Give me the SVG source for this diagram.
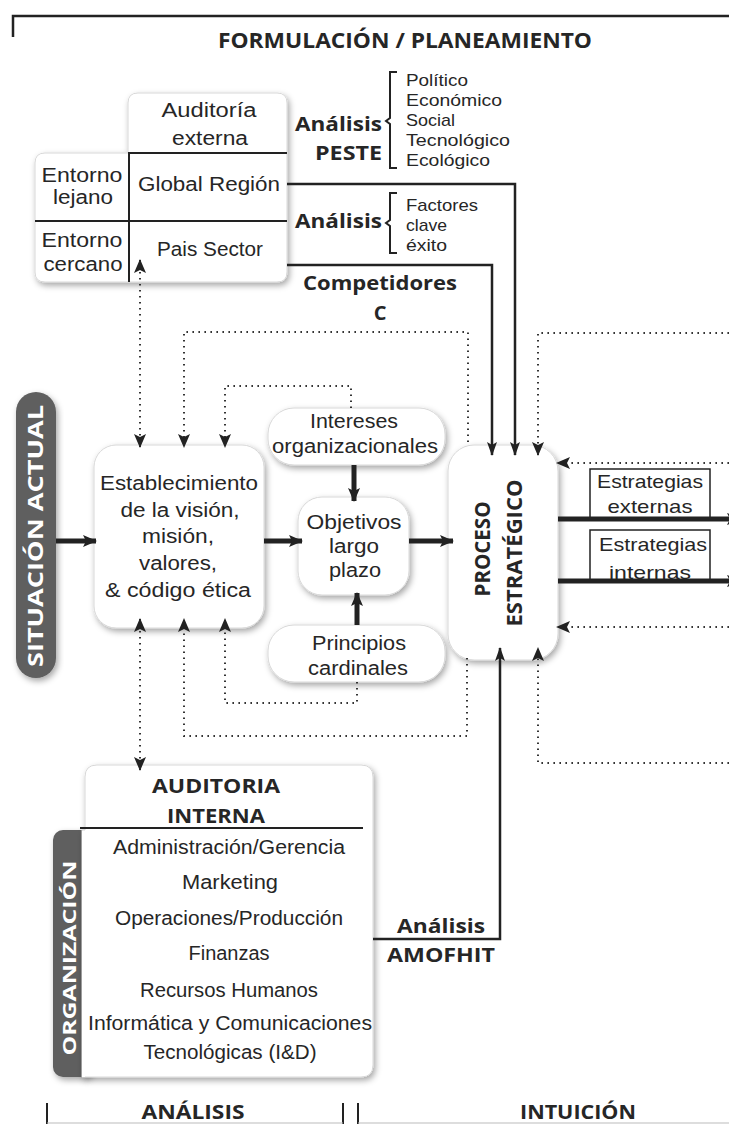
<svg xmlns="http://www.w3.org/2000/svg" width="729" height="1124" viewBox="0 0 729 1124">
<defs>
<style>
text{font-family:"Liberation Sans","Open Sans",sans-serif;fill:#262626}
.t{font-size:20px;text-anchor:middle}
.s{font-size:17px}
.b{font-family:"Open Sans","Noto Sans",sans-serif;font-weight:bold}
.w{font-family:"Open Sans","Noto Sans",sans-serif;fill:#fff;font-weight:bold;text-anchor:middle}
.box{fill:#fff;stroke:#d8d8d8;stroke-width:1;filter:url(#sh)}
.ln{fill:none;stroke:#222;stroke-width:2}
.sol{fill:none;stroke:#222;stroke-width:2.5}
.thk{fill:none;stroke:#222;stroke-width:5}
.dot{fill:none;stroke:#333;stroke-width:2;stroke-dasharray:1.6 4.4}
.brk{fill:none;stroke:#222;stroke-width:2}
</style>
<filter id="sh" x="-15%" y="-15%" width="135%" height="135%">
<feDropShadow dx="2" dy="3" stdDeviation="3" flood-color="#000" flood-opacity="0.35"/>
</filter>
<marker id="ah" viewBox="0 0 14 12" refX="13" refY="6" markerWidth="14" markerHeight="12" orient="auto-start-reverse" markerUnits="userSpaceOnUse">
<path d="M0,0 L14,6 L0,12 L3,6 z" fill="#222"/>
</marker>
<marker id="ahs" viewBox="0 0 14 10" refX="13" refY="5" markerWidth="14" markerHeight="10" orient="auto-start-reverse" markerUnits="userSpaceOnUse">
<path d="M0,0 L14,5 L0,10 L3,5 z" fill="#222"/>
</marker>
</defs>
<rect width="729" height="1124" fill="#fff"/>

<g id="frame">
<path d="M13,37 V16 H729" fill="none" stroke="#222" stroke-width="2.5"/>
<text x="405" y="48" class="b" font-size="21" text-anchor="middle" textLength="374" lengthAdjust="spacingAndGlyphs">FORMULACIÓN / PLANEAMIENTO</text>
<path d="M47,1103 V1124 M343,1103 V1124 M358,1103 V1124" fill="none" stroke="#222" stroke-width="2"/>
<path d="M47,1123 H343 M358,1123 H729" fill="none" stroke="#bbb" stroke-width="1"/>
<text x="193" y="1119" class="b" font-size="20" text-anchor="middle" textLength="103" lengthAdjust="spacingAndGlyphs">ANÁLISIS</text>
<text x="578" y="1119" class="b" font-size="20" text-anchor="middle" textLength="116" lengthAdjust="spacingAndGlyphs">INTUICIÓN</text>
</g>

<g id="auditoria-externa">
<path class="box" d="M138,93 H277 Q287,93 287,103 V272 Q287,282 277,282 H45 Q35,282 35,272 V163 Q35,153 45,153 H128 V103 Q128,93 138,93 Z"/>
<path class="ln" d="M128,153 H287 M129,153 V282 M35,221 H287"/>
<text class="t" x="209" y="117" textLength="95" lengthAdjust="spacingAndGlyphs">Auditoría</text>
<text class="t" x="210" y="145" textLength="76" lengthAdjust="spacingAndGlyphs">externa</text>
<text class="t" font-size="19" x="82" y="182" textLength="81" lengthAdjust="spacingAndGlyphs">Entorno</text>
<text class="t" font-size="19" x="83" y="204" textLength="60" lengthAdjust="spacingAndGlyphs">lejano</text>
<text class="t" x="209" y="191" textLength="142" lengthAdjust="spacingAndGlyphs">Global Región</text>
<text class="t" font-size="19" x="82" y="247" textLength="81" lengthAdjust="spacingAndGlyphs">Entorno</text>
<text class="t" font-size="19" x="83" y="271" textLength="79" lengthAdjust="spacingAndGlyphs">cercano</text>
<text class="t" x="210" y="256" textLength="106" lengthAdjust="spacingAndGlyphs">Pais Sector</text>
</g>

<g id="analisis-peste">
<text x="382" y="131" class="b" font-size="20" text-anchor="end" textLength="87" lengthAdjust="spacingAndGlyphs">Análisis</text>
<text x="382" y="160" class="b" font-size="20" text-anchor="end" textLength="67" lengthAdjust="spacingAndGlyphs">PESTE</text>
<path class="brk" d="M397,72 H390 V118 L386,121 L390,124 V168 H397"/>
<text class="s" x="406" y="86" textLength="62" lengthAdjust="spacingAndGlyphs">Político</text>
<text class="s" x="406" y="106" textLength="96" lengthAdjust="spacingAndGlyphs">Económico</text>
<text class="s" x="406" y="126" textLength="49" lengthAdjust="spacingAndGlyphs">Social</text>
<text class="s" x="406" y="146" textLength="104" lengthAdjust="spacingAndGlyphs">Tecnológico</text>
<text class="s" x="406" y="166" textLength="84" lengthAdjust="spacingAndGlyphs">Ecológico</text>
</g>

<g id="analisis-fce">
<text x="382" y="228" class="b" font-size="20" text-anchor="end" textLength="87" lengthAdjust="spacingAndGlyphs">Análisis</text>
<path class="brk" d="M397,193 H390 V220 L386,223 L390,226 V253 H397"/>
<text class="s" x="406" y="211" textLength="72" lengthAdjust="spacingAndGlyphs">Factores</text>
<text class="s" x="406" y="231" textLength="41" lengthAdjust="spacingAndGlyphs">clave</text>
<text class="s" x="406" y="251" textLength="41" lengthAdjust="spacingAndGlyphs">éxito</text>
</g>

<g id="competidores">
<text x="380" y="290" class="b" font-size="20" text-anchor="middle" textLength="154" lengthAdjust="spacingAndGlyphs">Competidores</text>
<text x="380" y="320" class="b" font-size="20" text-anchor="middle">C</text>
</g>

<g id="situacion-actual">
<rect x="16" y="392" width="40" height="286" rx="20" fill="#5f5f5f" filter="url(#sh)"/>
<text class="w" font-size="21" transform="translate(43,536) rotate(-90)" textLength="262" lengthAdjust="spacingAndGlyphs">SITUACIÓN ACTUAL</text>
</g>

<g id="establecimiento">
<rect class="box" x="94" y="445" width="170" height="183" rx="22"/>
<text class="t" x="179" y="490" textLength="158" lengthAdjust="spacingAndGlyphs">Establecimiento</text>
<text class="t" x="180" y="517" textLength="119" lengthAdjust="spacingAndGlyphs">de la visión,</text>
<text class="t" x="178" y="543" textLength="72" lengthAdjust="spacingAndGlyphs">misión,</text>
<text class="t" x="178" y="570" textLength="78" lengthAdjust="spacingAndGlyphs">valores,</text>
<text class="t" x="178" y="597" textLength="146" lengthAdjust="spacingAndGlyphs">&amp; código ética</text>
</g>

<g id="intereses">
<rect class="box" x="268" y="408" width="177" height="57" rx="26"/>
<text class="t" x="354" y="428" textLength="88" lengthAdjust="spacingAndGlyphs">Intereses</text>
<text class="t" x="355" y="453" textLength="166" lengthAdjust="spacingAndGlyphs">organizacionales</text>
</g>

<g id="objetivos">
<rect class="box" x="298" y="497" width="111" height="98" rx="24"/>
<text class="t" x="354" y="529" textLength="95" lengthAdjust="spacingAndGlyphs">Objetivos</text>
<text class="t" x="354" y="553" textLength="50" lengthAdjust="spacingAndGlyphs">largo</text>
<text class="t" x="355" y="577" textLength="52" lengthAdjust="spacingAndGlyphs">plazo</text>
</g>

<g id="principios">
<rect class="box" x="268" y="625" width="177" height="57" rx="26"/>
<text class="t" x="359" y="650" textLength="94" lengthAdjust="spacingAndGlyphs">Principios</text>
<text class="t" x="358" y="675" textLength="100" lengthAdjust="spacingAndGlyphs">cardinales</text>
</g>

<g id="proceso">
<rect class="box" x="448" y="445" width="110" height="215" rx="26"/>
<text class="b" font-size="22" text-anchor="middle" transform="translate(490,549) rotate(-90)" textLength="95" lengthAdjust="spacingAndGlyphs">PROCESO</text>
<text class="b" font-size="22" text-anchor="middle" transform="translate(522,553) rotate(-90)" textLength="147" lengthAdjust="spacingAndGlyphs">ESTRATÉGICO</text>
</g>

<g id="estrategias-externas">
<path d="M590,519 V469 H710 V519" fill="#fff" stroke="#222" stroke-width="1.5"/>
<text x="650" y="488" text-anchor="middle" font-size="19" textLength="106" lengthAdjust="spacingAndGlyphs">Estrategias</text>
<text x="650" y="513" text-anchor="middle" font-size="19" textLength="85" lengthAdjust="spacingAndGlyphs">externas</text>
</g>

<g id="estrategias-internas">
<path d="M590,581 V530 H710 V581" fill="#fff" stroke="#222" stroke-width="1.5"/>
<text x="653" y="551" text-anchor="middle" font-size="19" textLength="108" lengthAdjust="spacingAndGlyphs">Estrategias</text>
<text x="650" y="579" text-anchor="middle" font-size="19" textLength="82" lengthAdjust="spacingAndGlyphs">internas</text>
</g>

<g id="auditoria-interna">
<rect x="53" y="830" width="40" height="247" rx="10" fill="#5f5f5f" filter="url(#sh)"/>
<path class="box" d="M97,765 H361 Q373,765 373,777 V1065 Q373,1077 361,1077 H82 V830 H85 V777 Q85,765 97,765 Z"/>
<rect x="82" y="831" width="3" height="246" fill="#fff"/>
<path d="M80,828 H363" fill="none" stroke="#222" stroke-width="2"/>
<text class="w" font-size="18" transform="translate(76,958) rotate(-90)" textLength="195" lengthAdjust="spacingAndGlyphs">ORGANIZACIÓN</text>
<text x="216" y="793" class="b" font-size="20" text-anchor="middle" textLength="128" lengthAdjust="spacingAndGlyphs">AUDITORIA</text>
<text x="216" y="823" class="b" font-size="20" text-anchor="middle" textLength="98" lengthAdjust="spacingAndGlyphs">INTERNA</text>
<text class="t" font-size="19" x="229" y="854" textLength="232" lengthAdjust="spacingAndGlyphs">Administración/Gerencia</text>
<text class="t" font-size="19" x="230" y="889" textLength="96" lengthAdjust="spacingAndGlyphs">Marketing</text>
<text class="t" font-size="19" x="229" y="925" textLength="228" lengthAdjust="spacingAndGlyphs">Operaciones/Producción</text>
<text class="t" font-size="19" x="229" y="960" textLength="81" lengthAdjust="spacingAndGlyphs">Finanzas</text>
<text class="t" font-size="19" x="229" y="997" textLength="178" lengthAdjust="spacingAndGlyphs">Recursos Humanos</text>
<text class="t" font-size="19" x="230" y="1030" textLength="284" lengthAdjust="spacingAndGlyphs">Informática y Comunicaciones</text>
<text class="t" font-size="19" x="230" y="1059" textLength="173" lengthAdjust="spacingAndGlyphs">Tecnológicas (I&amp;D)</text>
</g>

<g id="analisis-amofhit">
<text x="441" y="933" class="b" font-size="20" text-anchor="middle" textLength="88" lengthAdjust="spacingAndGlyphs">Análisis</text>
<text x="441" y="962" class="b" font-size="20" text-anchor="middle" textLength="108" lengthAdjust="spacingAndGlyphs">AMOFHIT</text>
</g>

<g id="connectors">
<path class="thk" d="M56,541 H96" marker-end="url(#ah)"/>
<path class="thk" d="M264,541 H302" marker-end="url(#ah)"/>
<path class="thk" d="M409,541 H453" marker-end="url(#ah)"/>
<path class="thk" stroke-width="4" d="M354,465 V501" marker-end="url(#ah)"/>
<path class="thk" stroke-width="4" d="M357,625 V593" marker-end="url(#ah)"/>
<path class="sol" d="M287,184 H515 V455" marker-end="url(#ahs)"/>
<path class="sol" d="M287,265 H492 V455" marker-end="url(#ahs)"/>
<path class="sol" d="M373,939 H500 V648" marker-end="url(#ahs)"/>
<path class="thk" stroke-width="3.5" d="M558,519 H740" marker-end="url(#ah)"/>
<path class="thk" d="M558,581 H740" marker-end="url(#ah)"/>
<path class="dot" d="M140,260 V447" marker-start="url(#ah)" marker-end="url(#ah)"/>
<path class="dot" d="M140,619 V770" marker-start="url(#ah)" marker-end="url(#ah)"/>
<path class="dot" d="M468,442 V332 H184 V447" marker-end="url(#ah)"/>
<path class="dot" d="M351,408 V386 H225 V447" marker-end="url(#ah)"/>
<path class="dot" d="M467,658 V736 H184 V619" marker-end="url(#ah)"/>
<path class="dot" d="M357,682 V703 H225 V619" marker-end="url(#ah)"/>
<path class="dot" d="M729,333 H538 V455" marker-end="url(#ah)"/>
<path class="dot" d="M729,463 H557" marker-end="url(#ah)"/>
<path class="dot" d="M729,627 H557" marker-end="url(#ah)"/>
<path class="dot" d="M729,763 H538 V648" marker-end="url(#ah)"/>
</g>
</svg>
